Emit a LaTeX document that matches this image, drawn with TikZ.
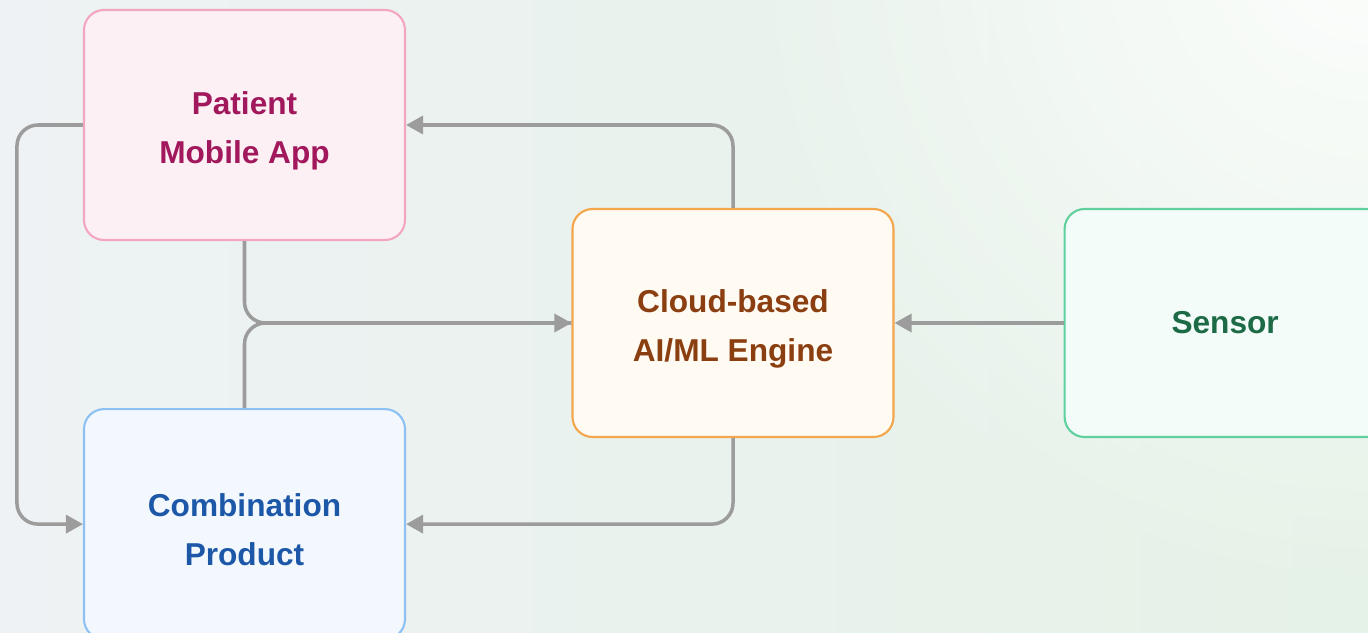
\documentclass[tikz,border=0pt]{standalone}
\usepackage{fontspec}
\setmainfont{Liberation Sans}
\usetikzlibrary{arrows.meta,positioning,fadings}

\definecolor{bgleft}{HTML}{EEF2F4}
\definecolor{bgright}{HTML}{E5F2E7}
\definecolor{linegray}{HTML}{9C9C9C}
\definecolor{patfill}{HTML}{FDF0F5}
\definecolor{patdraw}{HTML}{F3A5C1}
\definecolor{pattext}{HTML}{A1195C}
\definecolor{combfill}{HTML}{F2F8FE}
\definecolor{combdraw}{HTML}{8EC1F3}
\definecolor{combtext}{HTML}{1D58A8}
\definecolor{cloudfill}{HTML}{FFFAF2}
\definecolor{clouddraw}{HTML}{F3A64B}
\definecolor{cloudtext}{HTML}{8B3E10}
\definecolor{sensfill}{HTML}{F3FCF8}
\definecolor{sensdraw}{HTML}{5ED19F}
\definecolor{senstext}{HTML}{1C6B46}

\tikzfading[name=glow, inner color=transparent!10, outer color=transparent!100]

\newcommand{\toppad}{\rule{0pt}{1.1em}}

\tikzset{
  block/.style={rectangle, rounded corners=0.4cm, line width=1.2pt,
                minimum width=6.42cm, minimum height=4.6cm, align=center,
                font=\fontsize{18}{28}\selectfont\bfseries},
  conn/.style={draw=linegray, line width=2pt, rounded corners=0.42cm,
               -{Triangle[length=0.34cm,width=0.36cm]}}
}

\begin{document}
\begin{tikzpicture}[node distance=3.34cm]

    % background
    \useasboundingbox (0,0) rectangle (27.36,-12.64);
    \shade[left color=bgleft, right color=bgright] (0,0) rectangle (27.36,-12.64);
    \fill[white, path fading=glow] (27.36,1) circle (13cm);

    \node[block, fill=patfill, draw=patdraw, text=pattext] (pat) at (4.89,-2.5) {\toppad Patient\\Mobile App};
    \node[block, fill=combfill, draw=combdraw, text=combtext] (comb) [below=of pat] {\toppad Combination\\Product};
    \node[block, fill=cloudfill, draw=clouddraw, text=cloudtext, minimum height=4.56cm] (cloud) at (14.66,-6.46) {\toppad Cloud-based\\AI/ML Engine};
    \node[block, fill=sensfill, draw=sensdraw, text=senstext, minimum height=4.56cm] (sens) [right=3.38cm of cloud] {Sensor};

    \path[conn] (pat.west) -- ++(-1.32,0) |- (comb.west);
    \path[conn] (cloud.north) |- (pat.east);
    \path[conn] (cloud.south) |- (comb.east);
    \path[conn] (sens.west) -- (cloud.east);
    \path[conn] (pat.south) |- (cloud.west);
    \path[conn, -] (comb.north) |- (cloud.west);
\end{tikzpicture}
\end{document}
